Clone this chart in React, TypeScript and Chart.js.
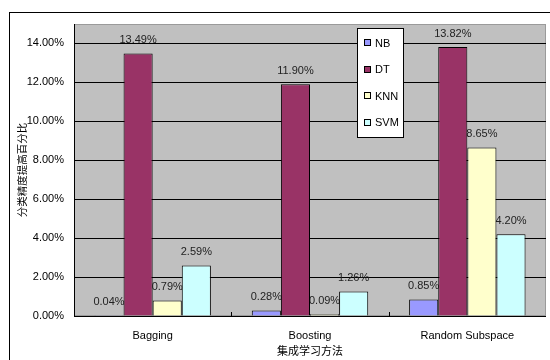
import { useEffect, useRef } from 'react';
import { Chart, registerables } from 'chart.js';

Chart.register(...registerables);

const categories = ['Bagging', 'Boosting', 'Random Subspace'];
const seriesNames = ['NB', 'DT', 'KNN', 'SVM'];
const nbValues = [0.04, 0.28, 0.85];
const dtValues = [13.49, 11.9, 13.82];
const knnValues = [0.79, 0.09, 8.65];
const svmValues = [2.59, 1.26, 4.2];
const seriesColors = ['#9999FF', '#993366', '#FFFFCC', '#CCFFFF'];
const yTickValues = [0, 2, 4, 6, 8, 10, 12, 14];
const yAxisTitle = '分类精度提高百分比';
const xAxisTitle = '集成学习方法';

const LATIN = 'Arial, "Liberation Sans", sans-serif';
const CJK = '"Noto Sans CJK SC", sans-serif';

const decor = {
  id: 'decor',
  beforeDraw(chart: any) {
    const { ctx, chartArea: a, width, height } = chart;
    ctx.save();
    ctx.fillStyle = '#ffffff';
    ctx.fillRect(0, 0, width, height);
    ctx.strokeStyle = '#000000';
    ctx.lineWidth = 1;
    ctx.strokeRect(9.5, 12.5, width + 20, height + 20);
    ctx.fillStyle = '#c0c0c0';
    ctx.fillRect(a.left, a.top, a.right - a.left, a.bottom - a.top);
    ctx.strokeStyle = '#9a9a9a';
    ctx.strokeRect(a.left + 0.5, a.top + 0.5, a.right - a.left - 1, a.bottom - a.top - 1);
    ctx.restore();
  },
  beforeDatasetsDraw(chart: any) {
    const { ctx } = chart;
    ctx.save();
    ctx.font = `11px ${LATIN}`;
    ctx.fillStyle = '#222';
    ctx.textAlign = 'center';
    ctx.textBaseline = 'middle';
    chart.data.datasets.forEach((ds: any, i: number) => {
      const meta = chart.getDatasetMeta(i);
      meta.data.forEach((bar: any, j: number) => {
        const v = ds.data[j];
        ctx.fillText(v.toFixed(2) + '%', bar.x, bar.y - 13.5);
      });
    });
    ctx.restore();
  },
  afterDatasetsDraw(chart: any) {
    const { ctx, chartArea: a } = chart;
    ctx.save();
    // x tick marks at category boundaries
    const xs = chart.scales.x;
    ctx.strokeStyle = '#000';
    ctx.lineWidth = 1;
    for (let i = 1; i < categories.length; i++) {
      const px = Math.round((xs.getPixelForTick(i - 1) + xs.getPixelForTick(i)) / 2) + 0.5;
      ctx.beginPath();
      ctx.moveTo(px, a.bottom);
      ctx.lineTo(px, a.bottom - 4);
      ctx.stroke();
    }
    // legend
    ctx.font = `11px ${LATIN}`;
    ctx.textBaseline = 'middle';
    const lx = 357, ly = 28, lw = 46, lh = 109;
    ctx.fillStyle = '#ffffff';
    ctx.fillRect(lx, ly, lw, lh);
    ctx.strokeStyle = '#000';
    ctx.strokeRect(lx + 0.5, ly + 0.5, lw, lh);
    ctx.textAlign = 'left';
    seriesNames.forEach((name, i) => {
      const cy = 43 + i * 26.5;
      ctx.fillStyle = seriesColors[i];
      ctx.fillRect(364.5, Math.round(cy) - 3.5, 6, 6);
      ctx.strokeStyle = '#000';
      ctx.strokeRect(364.5, Math.round(cy) - 3.5, 6, 6);
      ctx.fillStyle = '#000';
      ctx.fillText(name, 375, cy + 0.5);
    });
    ctx.restore();
  },
};

export default function App() {
  const ref = useRef<HTMLCanvasElement>(null);
  useEffect(() => {
    if (!ref.current) return;
    const valuesList = [nbValues, dtValues, knnValues, svmValues];
    const chart = new Chart(ref.current, {
      type: 'bar',
      data: {
        labels: categories,
        datasets: seriesNames.map((name, i) => ({
          label: name,
          data: valuesList[i],
          backgroundColor: seriesColors[i],
          borderColor: '#000000',
          borderWidth: 1,
          barPercentage: 1,
          categoryPercentage: 0.74,
        })),
      },
      options: {
        animation: false,
        responsive: true,
        maintainAspectRatio: false,
        layout: { padding: { top: 24, right: 4, bottom: 0, left: 0 } },
        plugins: { legend: { display: false }, tooltip: { enabled: false } },
        scales: {
          x: {
            grid: { display: false, drawTicks: false },
            border: { display: false },
            ticks: { color: '#000', font: { family: LATIN, size: 11 }, padding: 13 },
            title: {
              display: true,
              text: xAxisTitle,
              color: '#000',
              font: { family: CJK, size: 11, lineHeight: 1.2 },
              padding: { top: 0, bottom: 2.4 },
            },
            afterFit: (s: any) => {
              s.height = 44;
            },
          },
          y: {
            min: 0,
            max: 15,
            grid: { color: '#000000', lineWidth: 1, drawTicks: false },
            border: { display: true, color: '#000000' },
            afterBuildTicks: (s: any) => {
              s.ticks = yTickValues.map((v) => ({ value: v }));
            },
            ticks: {
              color: '#000',
              font: { family: LATIN, size: 11 },
              padding: 10,
              callback: (v: any) => Number(v).toFixed(2) + '%',
            },
            title: {
              display: true,
              text: yAxisTitle,
              color: '#000',
              font: { family: CJK, size: 10.5, lineHeight: 1.2 },
              padding: { top: 15.5, bottom: 0 },
            },
            afterFit: (s: any) => {
              s.width = 74;
            },
          },
        },
      },
      plugins: [decor],
    });
    return () => chart.destroy();
  }, []);
  return (
    <div style={{ position: 'fixed', left: 0, top: 0, width: 550, height: 360 }}>
      <canvas ref={ref} />
    </div>
  );
}
